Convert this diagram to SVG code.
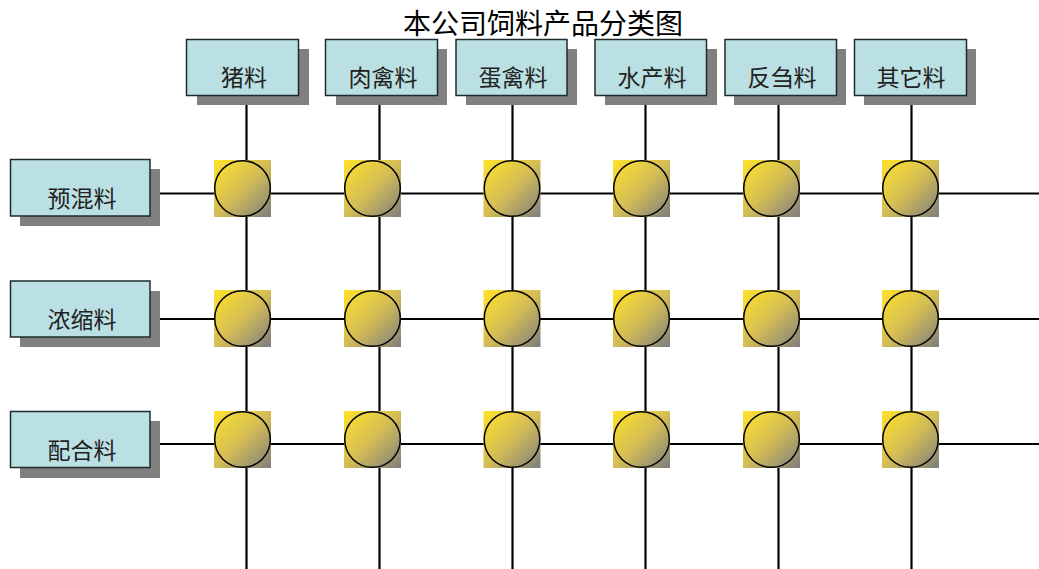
<svg xmlns="http://www.w3.org/2000/svg" width="1039" height="569" viewBox="0 0 1039 569">
<style>
.box{fill:#BBE0E3;stroke:#1e2b2b;stroke-width:1.5}
.sh{fill:#808080}
.lbl{font-family:"Noto Sans CJK SC","Liberation Sans",sans-serif;font-size:23px;fill:#222;text-anchor:middle}
.title{font-family:"Noto Sans CJK SC","Liberation Sans",sans-serif;font-size:28px;fill:#000;text-anchor:middle}
.ln{stroke:#000;stroke-width:2.2;fill:none}
.sq{fill:url(#g)}
.ci{fill:url(#g);stroke:#000;stroke-width:1.5}
</style>
<defs>
<linearGradient id="g" x1="0" y1="0" x2="1" y2="1">
<stop offset="0" stop-color="#FFE22A"/>
<stop offset="0.5" stop-color="#D4BD55"/>
<stop offset="1" stop-color="#7E7E7E"/>
</linearGradient>
</defs>
<rect width="1039" height="569" fill="#fff"/>
<text class="title" x="543" y="34">本公司饲料产品分类图</text>
<g id="connectors">
<line class="ln" x1="246.5" y1="104" x2="246.5" y2="569"/>
<line class="ln" x1="379.5" y1="104" x2="379.5" y2="569"/>
<line class="ln" x1="512.5" y1="104" x2="512.5" y2="569"/>
<line class="ln" x1="645.5" y1="104" x2="645.5" y2="569"/>
<line class="ln" x1="778.5" y1="104" x2="778.5" y2="569"/>
<line class="ln" x1="911.5" y1="104" x2="911.5" y2="569"/>
<line class="ln" x1="159" y1="193.5" x2="1039" y2="193.5"/>
<line class="ln" x1="159" y1="319" x2="1039" y2="319"/>
<line class="ln" x1="159" y1="444" x2="1039" y2="444"/>
</g>
<g id="col-pig"><rect class="sh" x="197" y="49" width="112" height="56"/><rect class="box" x="186.5" y="39.5" width="112" height="56"/><text class="lbl" x="244" y="86">猪料</text></g>
<g id="col-meat"><rect class="sh" x="336" y="49" width="111" height="56"/><rect class="box" x="325.5" y="39.5" width="112" height="56"/><text class="lbl" x="383" y="86">肉禽料</text></g>
<g id="col-egg"><rect class="sh" x="466" y="49" width="111" height="56"/><rect class="box" x="456" y="39.5" width="111" height="56"/><text class="lbl" x="513" y="86">蛋禽料</text></g>
<g id="col-aqua"><rect class="sh" x="605" y="49" width="112" height="56"/><rect class="box" x="595" y="39.5" width="111.5" height="56"/><text class="lbl" x="652" y="86">水产料</text></g>
<g id="col-rum"><rect class="sh" x="734" y="49" width="112" height="56"/><rect class="box" x="725" y="39.5" width="111.5" height="56"/><text class="lbl" x="782" y="86">反刍料</text></g>
<g id="col-other"><rect class="sh" x="864" y="49" width="112" height="56"/><rect class="box" x="854.5" y="39.5" width="112" height="56"/><text class="lbl" x="911" y="86">其它料</text></g>
<g id="row-premix"><rect class="sh" x="20" y="169" width="140" height="57"/><rect class="box" x="10.5" y="159.5" width="139.5" height="56.5"/><text class="lbl" x="82" y="207">预混料</text></g>
<g id="row-conc"><rect class="sh" x="20" y="291" width="140" height="56"/><rect class="box" x="10.5" y="281" width="139.5" height="56"/><text class="lbl" x="82" y="328">浓缩料</text></g>
<g id="row-comp"><rect class="sh" x="20" y="421" width="140" height="57"/><rect class="box" x="10.5" y="411.5" width="139.5" height="56"/><text class="lbl" x="82" y="459">配合料</text></g>
<g id="n11"><rect class="sq" x="214" y="160" width="57" height="57"/><circle class="ci" cx="242.5" cy="188.5" r="27.8"/></g>
<g id="n12"><rect class="sq" x="344" y="160" width="57" height="57"/><circle class="ci" cx="372.5" cy="188.5" r="27.8"/></g>
<g id="n13"><rect class="sq" x="483.5" y="160" width="57" height="57"/><circle class="ci" cx="512" cy="188.5" r="27.8"/></g>
<g id="n14"><rect class="sq" x="613" y="160" width="57" height="57"/><circle class="ci" cx="641.5" cy="188.5" r="27.8"/></g>
<g id="n15"><rect class="sq" x="743" y="160" width="57" height="57"/><circle class="ci" cx="771.5" cy="188.5" r="27.8"/></g>
<g id="n16"><rect class="sq" x="882" y="160" width="57" height="57"/><circle class="ci" cx="910.5" cy="188.5" r="27.8"/></g>
<g id="n21"><rect class="sq" x="214" y="290" width="57" height="57"/><circle class="ci" cx="242.5" cy="318.5" r="27.8"/></g>
<g id="n22"><rect class="sq" x="344" y="290" width="57" height="57"/><circle class="ci" cx="372.5" cy="318.5" r="27.8"/></g>
<g id="n23"><rect class="sq" x="483.5" y="290" width="57" height="57"/><circle class="ci" cx="512" cy="318.5" r="27.8"/></g>
<g id="n24"><rect class="sq" x="613" y="290" width="57" height="57"/><circle class="ci" cx="641.5" cy="318.5" r="27.8"/></g>
<g id="n25"><rect class="sq" x="743" y="290" width="57" height="57"/><circle class="ci" cx="771.5" cy="318.5" r="27.8"/></g>
<g id="n26"><rect class="sq" x="882" y="290" width="57" height="57"/><circle class="ci" cx="910.5" cy="318.5" r="27.8"/></g>
<g id="n31"><rect class="sq" x="214" y="411" width="57" height="57"/><circle class="ci" cx="242.5" cy="439.5" r="27.8"/></g>
<g id="n32"><rect class="sq" x="344" y="411" width="57" height="57"/><circle class="ci" cx="372.5" cy="439.5" r="27.8"/></g>
<g id="n33"><rect class="sq" x="483.5" y="411" width="57" height="57"/><circle class="ci" cx="512" cy="439.5" r="27.8"/></g>
<g id="n34"><rect class="sq" x="613" y="411" width="57" height="57"/><circle class="ci" cx="641.5" cy="439.5" r="27.8"/></g>
<g id="n35"><rect class="sq" x="743" y="411" width="57" height="57"/><circle class="ci" cx="771.5" cy="439.5" r="27.8"/></g>
<g id="n36"><rect class="sq" x="882" y="411" width="57" height="57"/><circle class="ci" cx="910.5" cy="439.5" r="27.8"/></g>
</svg>
